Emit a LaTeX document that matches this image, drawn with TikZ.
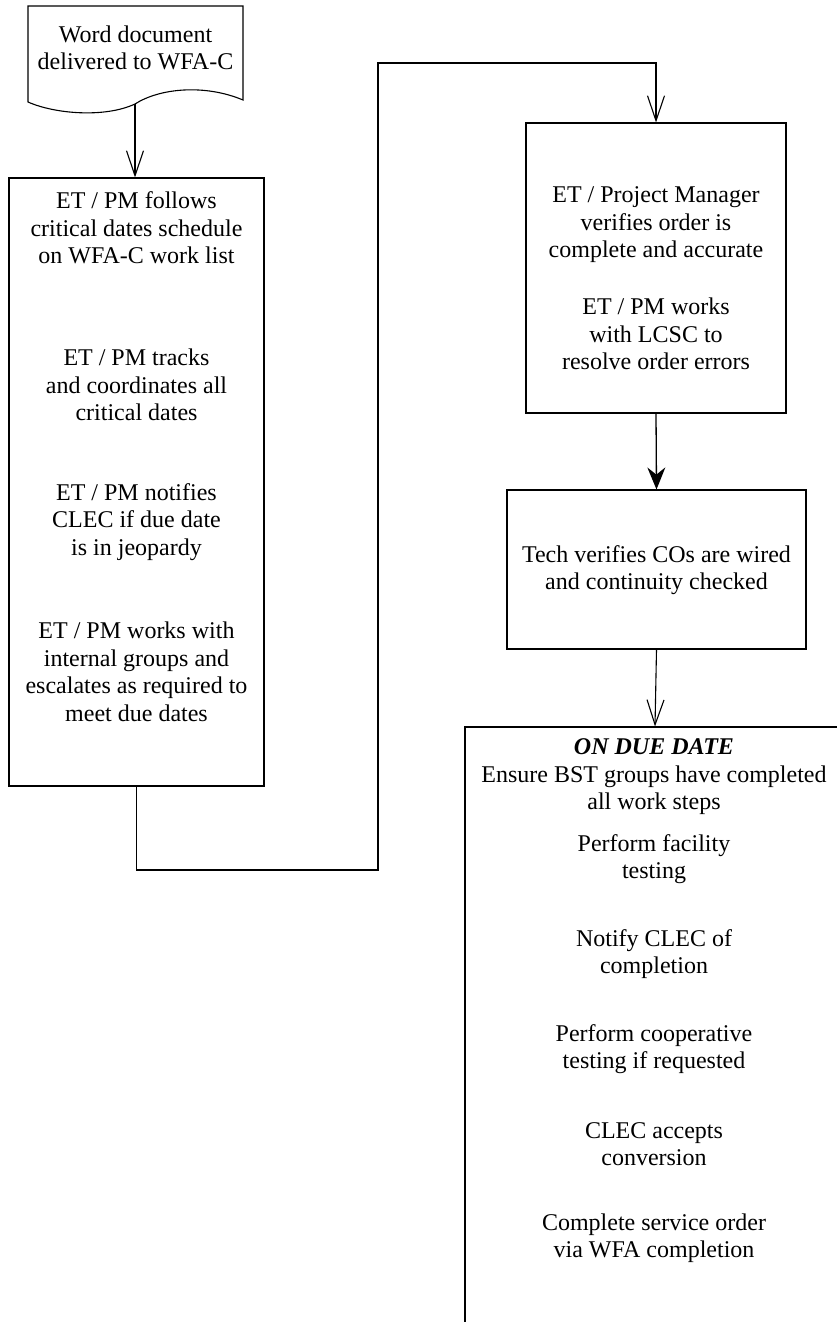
\documentclass[tikz,border=0pt]{standalone}
\usepackage{fontspec}
\setmainfont{Liberation Serif}
\usetikzlibrary{
  arrows.meta,
  positioning,
  calc
}
\tikzset{
  flowbox/.style={draw=black, line width=1.1pt, minimum width=#1},
  steptext/.style={align=center, inner sep=0pt, font=\fontsize{24}{27.5}\selectfont},
  openarrow/.style={-{Straight Barb[length=25pt, width=17pt]}, line width=1.1pt},
  boldarrow/.style={-{Stealth[length=22pt, width=18pt]}, line width=1.3pt}
}

\begin{document}
\begin{tikzpicture}[x=1pt, y=-1pt]
\useasboundingbox (0,0) rectangle (837,1322);

% document shape
\draw[line width=1.1pt] (28,6) -- (243,6) -- (243,100)
  .. controls (205,84) and (160,88) .. (135,104)
  .. controls (105,118) and (55,114) .. (28,102) -- cycle;
\coordinate (docout) at (135,104);
\node[steptext] (doc) at (135.5,48) {Word document\\delivered to WFA-C};

% boxes
\node[flowbox=255pt, minimum height=608pt] (track) at (136.5,482) {};
\node[flowbox=260pt, minimum height=290pt] (verify) at (656,268) {};
\node[flowbox=299pt, minimum height=159pt] (wired) at (656.5,569.5) {};
\node[flowbox=380pt, minimum height=613pt] (duedate) at (655,1033.5) {};

% texts
\node[steptext] (trackA) at (136.5,228) {ET / PM follows\\critical dates schedule\\on WFA-C work list};
\node[steptext] (trackB) at (136.5,385) {ET / PM tracks\\and coordinates all\\critical dates};
\node[steptext] (trackC) at (136.5,522) {ET / PM notifies\\CLEC if due date\\is in jeopardy};
\node[steptext] (trackD) at (136.5,672) {ET / PM works with\\internal groups and\\escalates as required to\\meet due dates};

\node[steptext] (verifyA) at (656,225) {ET / Project Manager\\verifies order is\\complete and accurate};
\node[steptext] (verifyB) at (656,334) {ET / PM works\\with LCSC to\\resolve order errors};

\node[steptext] (wiredA) at (656.5,570) {Tech verifies COs are wired\\and continuity checked};

\node[steptext] (dueA) at (654,777) {\textbf{\textit{ON DUE DATE}}\\Ensure BST groups have completed\\all work steps};
\node[steptext] (dueB) at (654,859) {Perform facility\\testing};
\node[steptext] (dueC) at (654,954) {Notify CLEC of\\completion};
\node[steptext] (dueD) at (654,1049) {Perform cooperative\\testing if requested};
\node[steptext] (dueE) at (654,1144) {CLEC accepts\\conversion};
\node[steptext] (dueF) at (654,1238) {Complete service order\\via WFA completion};

% connectors
\coordinate (lowturn) at (378,870);
\coordinate (highturn) at (378,63);
\draw[openarrow] (docout) -- (docout |- track.north);
\draw[openarrow] (track.south) |- (lowturn) -- (highturn) -| (verify.north);
\draw[boldarrow] (verify.south) -- (wired.north);
\draw[openarrow] (wired.south) -- (duedate.north);
\end{tikzpicture}
\end{document}
